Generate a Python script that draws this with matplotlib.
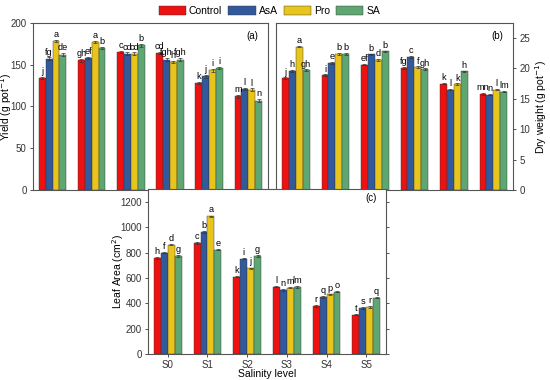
import numpy as np
import matplotlib
matplotlib.use('Agg')
import matplotlib.pyplot as plt

plt.rcParams['font.family'] = ['Liberation Sans', 'DejaVu Sans']

levels = ['S0', 'S1', 'S2', 'S3', 'S4', 'S5']
treatments = ['Control', 'AsA', 'Pro', 'SA']
colors = ['#ee1111', '#32599c', '#e8c51c', '#5fa772']

# Yield (g pot-1), rows = treatment, columns = salinity level
yield_vals = [[134, 155, 165, 164, 128, 112],
              [157, 158, 163, 156, 136, 121],
              [178, 177, 163, 153, 143, 120],
              [162, 170, 173, 156, 146, 107]]
yield_err = [[1.5, 1.5, 1.5, 1.5, 1.5, 1.5]] * 4
yield_let = [['j', 'gh', 'c', 'cd', 'k', 'm'],
             ['fg', 'ef', 'cd', 'fgh', 'j', 'l'],
             ['a', 'a', 'cd', 'h', 'i', 'l'],
             ['de', 'b', 'b', 'fgh', 'i', 'n']]

# Dry weight (g pot-1)
dw_vals = [[18.4, 18.9, 20.6, 20.1, 17.5, 15.8],
           [19.6, 20.9, 22.3, 21.9, 16.5, 15.7],
           [23.6, 22.4, 21.4, 20.2, 17.4, 16.5],
           [19.7, 22.4, 22.8, 19.9, 19.5, 16.2]]
dw_err = [[0.12, 0.12, 0.12, 0.12, 0.12, 0.12]] * 4
dw_let = [['j', 'i', 'ef', 'fg', 'k', 'mn'],
          ['h', 'e', 'b', 'c', 'l', 'n'],
          ['a', 'b', 'd', 'f', 'k', 'l'],
          ['gh', 'b', 'b', 'gh', 'h', 'lm']]

# Leaf area (cm2)
la_vals = [[758, 877, 612, 533, 378, 312],
           [800, 961, 753, 504, 449, 365],
           [863, 1087, 677, 525, 472, 373],
           [772, 824, 772, 528, 493, 446]]
la_err = [[6, 6, 6, 6, 6, 6]] * 4
la_let = [['h', 'c', 'k', 'l', 'r', 't'],
          ['f', 'b', 'i', 'n', 'q', 's'],
          ['d', 'a', 'j', 'm', 'p', 'r'],
          ['g', 'e', 'g', 'lm', 'o', 'q']]


def draw_bars(ax, vals, errs, lets, pad):
    x = np.arange(len(levels))
    w = 0.175
    handles = []
    for i in range(4):
        xi = x + (i - 1.5) * w
        h = ax.bar(xi, vals[i], w, color=colors[i], edgecolor='#333333', linewidth=0.3,
                   yerr=errs[i], error_kw=dict(ecolor='#333333', elinewidth=0.5, capsize=1.2, capthick=0.5))
        handles.append(h)
        for xx, v, e, t in zip(xi, vals[i], errs[i], lets[i]):
            ax.text(xx, v + e + pad, t, ha='center', va='bottom', fontsize=6.6)
    ax.set_xlim(-0.5, 5.5)
    return handles


fig = plt.figure(figsize=(5.5, 3.8), dpi=100)

ax1 = fig.add_axes([0.060, 0.500, 0.427, 0.440])
ax2 = fig.add_axes([0.502, 0.500, 0.431, 0.440])
ax3 = fig.add_axes([0.269, 0.068, 0.433, 0.434])

for ax in (ax1, ax2, ax3):
    for s in ax.spines.values():
        s.set_color('#555555')
        s.set_linewidth(0.8)
    ax.tick_params(labelsize=7, width=0.6, length=2.5, colors='#333333', pad=2)

# (a) yield
hs = draw_bars(ax1, yield_vals, yield_err, yield_let, 1)
ax1.set_ylim(0, 200)
ax1.set_yticks([0, 50, 100, 150, 200])
ax1.set_xticks([])
ax1.set_ylabel(r'Yield (g pot$^{-1}$)', fontsize=7.5, va='center')
ax1.yaxis.set_label_coords(-0.113, 0.5)
ax1.text(0.96, 0.95, '(a)', transform=ax1.transAxes, ha='right', va='top', fontsize=7)

# (b) dry weight
draw_bars(ax2, dw_vals, dw_err, dw_let, 0.12)
ax2.set_ylim(0, 27.5)
ax2.set_yticks([0, 5, 10, 15, 20, 25])
ax2.set_xticks([])
ax2.yaxis.tick_right()
ax2.yaxis.set_label_position('right')
ax2.set_ylabel(r'Dry weight (g pot$^{-1}$)', fontsize=7.5, va='center')
ax2.yaxis.set_label_coords(1.118, 0.5)
ax2.text(0.96, 0.95, '(b)', transform=ax2.transAxes, ha='right', va='top', fontsize=7)

# (c) leaf area
draw_bars(ax3, la_vals, la_err, la_let, 8)
ax3.set_ylim(0, 1300)
ax3.set_yticks([0, 200, 400, 600, 800, 1000, 1200])
ax3.set_xticks(np.arange(len(levels)))
ax3.set_xticklabels(levels)
ax3.tick_params(axis='y', right=True, which='both')
ax3.set_ylabel(r'Leaf Area (cm$^{2}$)', fontsize=7.5, va='center')
ax3.yaxis.set_label_coords(-0.127, 0.5)
ax3.set_xlabel('Salinity level', fontsize=7.5, va='center')
ax3.xaxis.set_label_coords(0.5, -0.12)
ax3.text(0.96, 0.98, '(c)', transform=ax3.transAxes, ha='right', va='top', fontsize=7)

fig.legend(hs, treatments, loc='upper center', bbox_to_anchor=(0.49, 1.01), ncol=4,
           frameon=False, fontsize=7.5, handlelength=2.6, handleheight=1.0,
           columnspacing=0.6, handletextpad=0.3)

fig.savefig('out.png', dpi=100)
